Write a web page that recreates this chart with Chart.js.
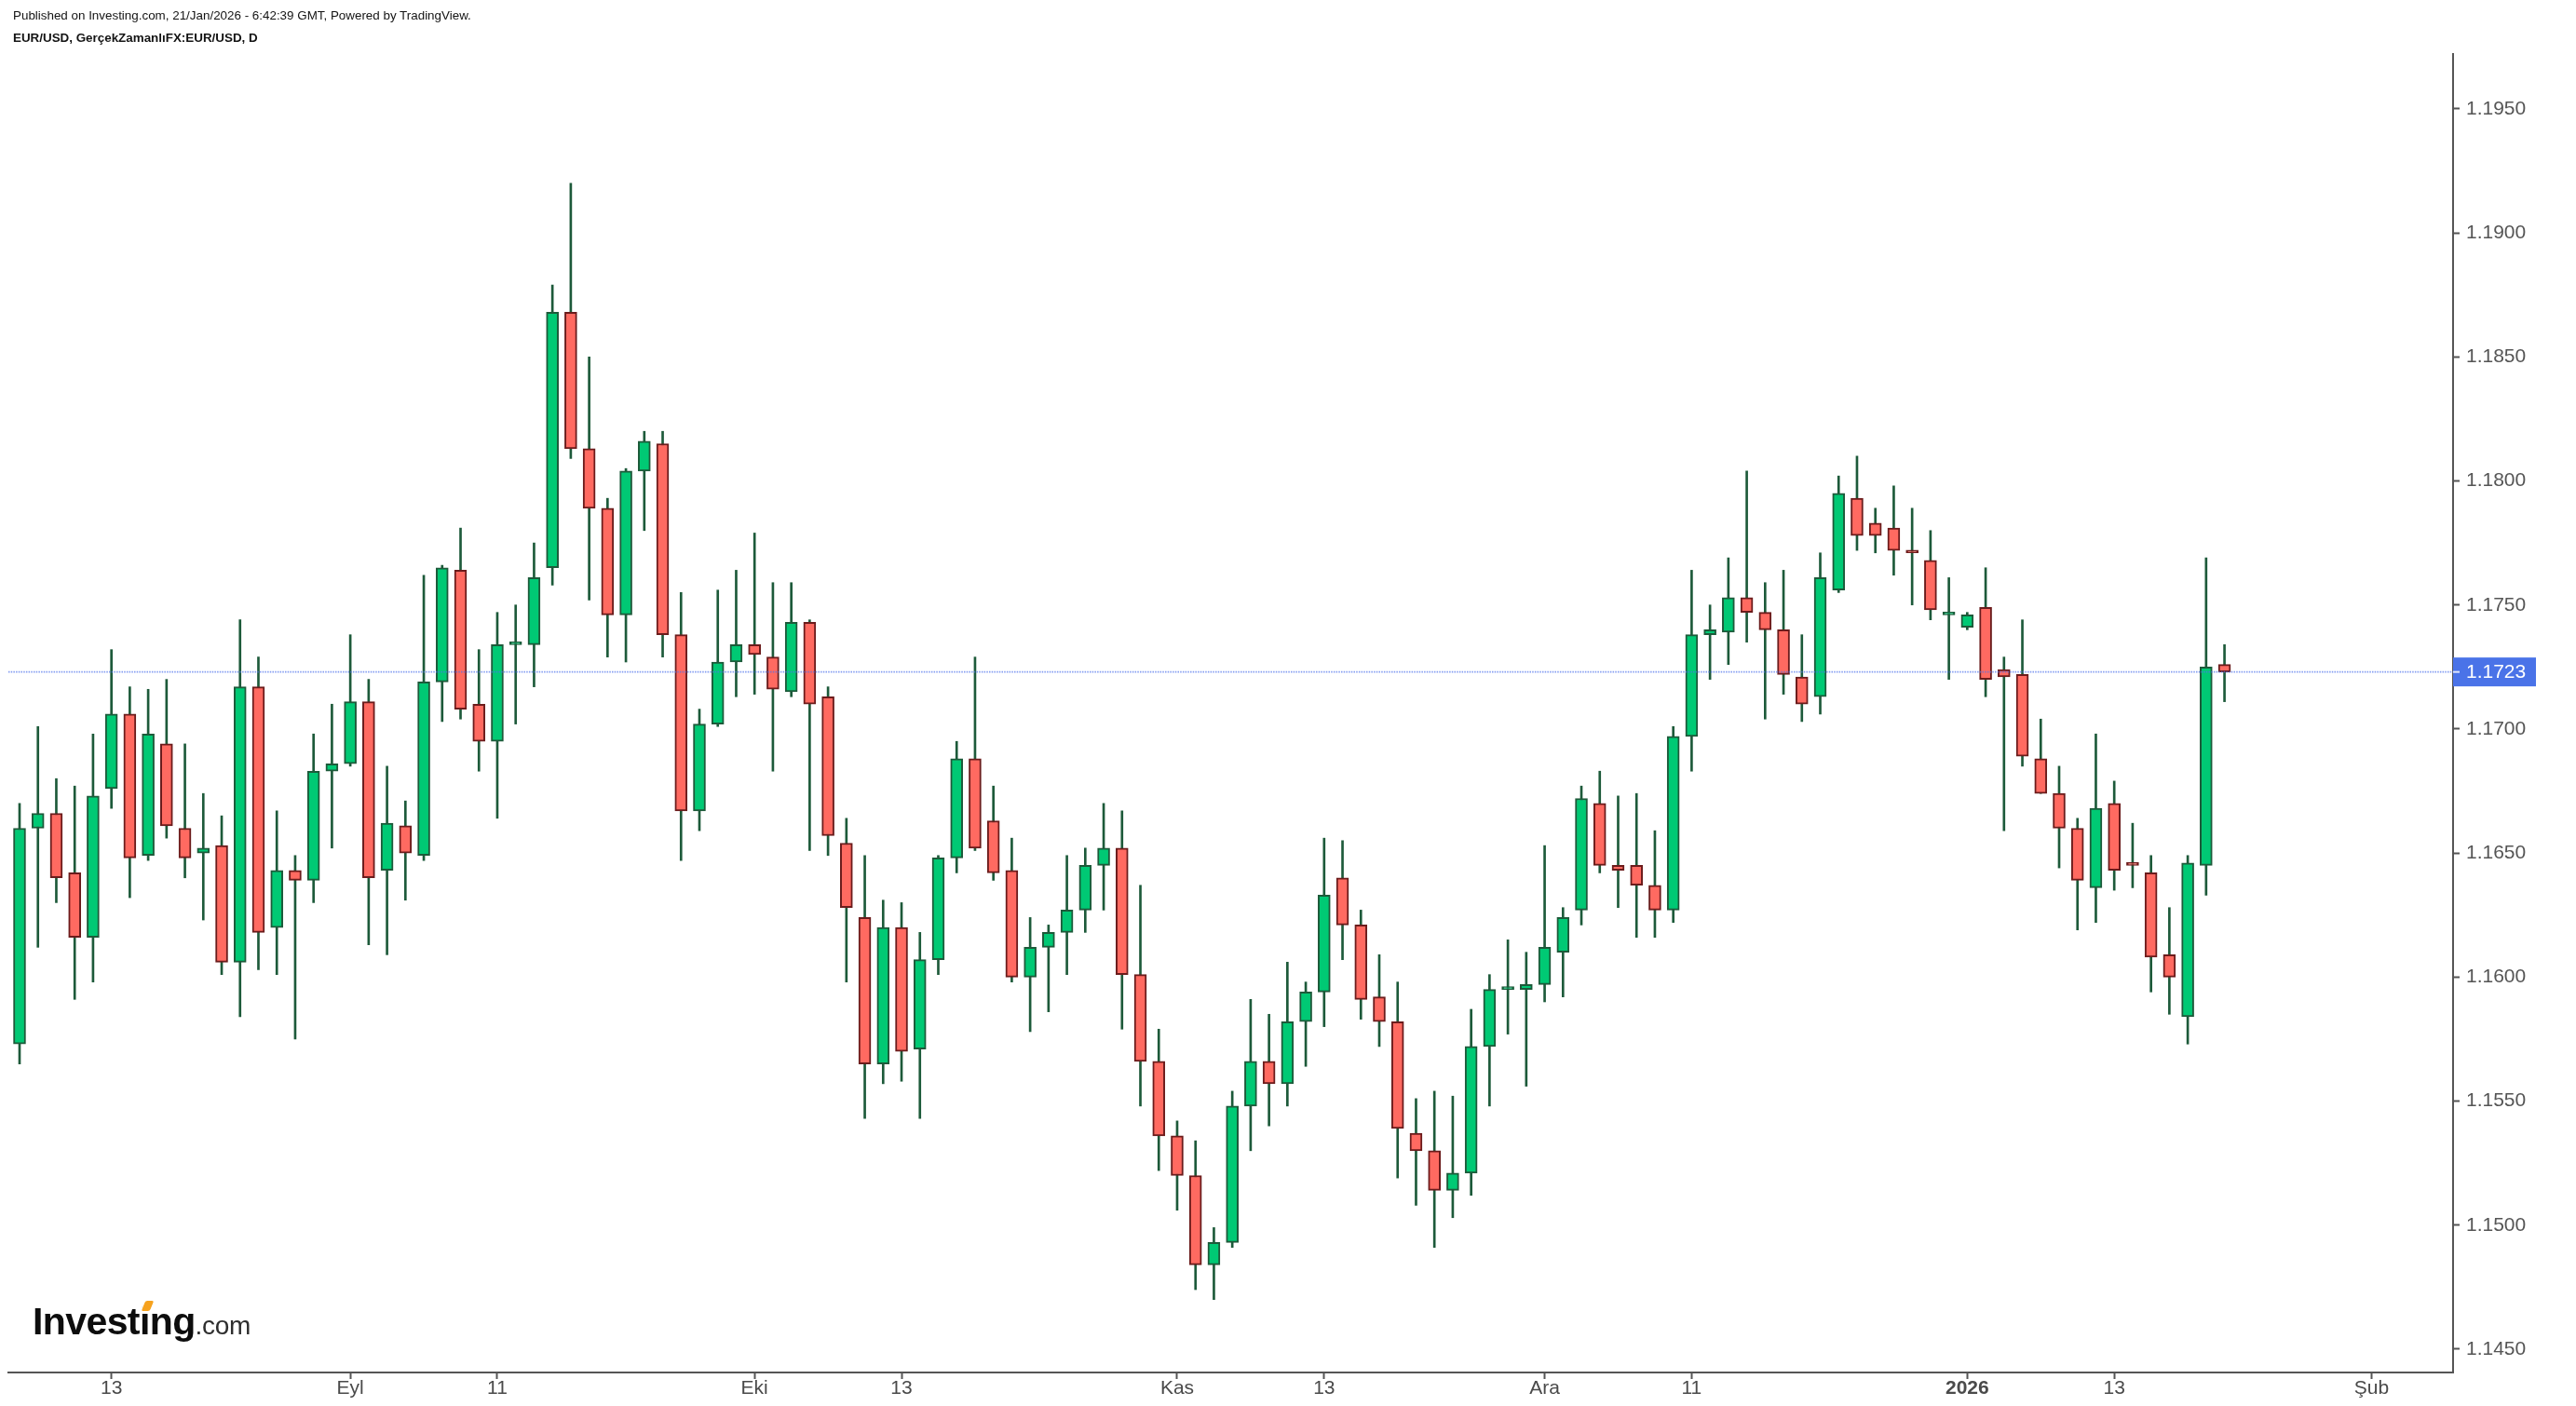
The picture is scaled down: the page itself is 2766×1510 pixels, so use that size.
<!DOCTYPE html>
<html lang="tr">

<head>
    <meta charset="UTF-8">
    <title>EUR/USD, D</title>
    <style>
        html, body { margin: 0; padding: 0; background: #fff; }
        #wrap { position: relative; width: 2766px; height: 1510px; overflow: hidden; }
        #chart-box { position: absolute; left: 0; top: 0; width: 2766px; height: 1510px; }
        .hdr { position: absolute; left: 14px; font-family: "Liberation Sans", Arial, sans-serif; font-size: 13.4px; line-height: 14px; color: #131313; white-space: nowrap; }
        #hdr1 { top: 10px; }
        #hdr2 { top: 34px; font-weight: bold; }
        #logo { position: absolute; left: 35px; top: 1399px; line-height: 40px; font-family: "Liberation Sans", Arial, sans-serif; white-space: nowrap; }
        #logo .big { font-size: 41px; font-weight: bold; color: #0d0d0d; letter-spacing: -0.6px; }
        #logo .com { font-size: 28px; color: #2e2e2e; letter-spacing: -0.3px; }
        #logo-dot { position: absolute; left: 154px; top: 1397px; width: 9px; height: 11px; background: #f6a21e; transform: skewX(-22deg); border-radius: 2px; box-shadow: 0 0 0 1px #fff; }
    </style>
    <script src="https://cdn.jsdelivr.net/npm/chart.js"></script>
</head>

<body>
    <div id="wrap">
        <div id="chart-box"><canvas id="fx-chart"></canvas></div>
        <div class="hdr" id="hdr1">Published on Investing.com, 21/Jan/2026 - 6:42:39 GMT, Powered by TradingView.</div>
        <div class="hdr" id="hdr2">EUR/USD, GerçekZamanlıFX:EUR/USD, D</div>
        <div id="logo"><span class="big">Investing</span><span class="com">.com</span></div>
        <div id="logo-dot"></div>
    </div>

    <script>
        // giorni di negoziazione (ago 2025 - gen 2026)
        const dates = [
            '2025-08-06', '2025-08-07', '2025-08-08', '2025-08-11', '2025-08-12', '2025-08-13', '2025-08-14', '2025-08-15',
            '2025-08-18', '2025-08-19', '2025-08-20', '2025-08-21', '2025-08-22', '2025-08-25', '2025-08-26', '2025-08-27',
            '2025-08-28', '2025-08-29',
            '2025-09-01', '2025-09-02', '2025-09-03', '2025-09-04', '2025-09-05', '2025-09-08', '2025-09-09', '2025-09-10',
            '2025-09-11', '2025-09-12', '2025-09-15', '2025-09-16', '2025-09-17', '2025-09-18', '2025-09-19', '2025-09-22',
            '2025-09-23', '2025-09-24', '2025-09-25', '2025-09-26', '2025-09-29', '2025-09-30',
            '2025-10-01', '2025-10-02', '2025-10-03', '2025-10-06', '2025-10-07', '2025-10-08', '2025-10-09', '2025-10-10',
            '2025-10-13', '2025-10-14', '2025-10-15', '2025-10-16', '2025-10-17', '2025-10-20', '2025-10-21', '2025-10-22',
            '2025-10-23', '2025-10-24', '2025-10-27', '2025-10-28', '2025-10-29', '2025-10-30', '2025-10-31',
            '2025-11-03', '2025-11-04', '2025-11-05', '2025-11-06', '2025-11-07', '2025-11-10', '2025-11-11', '2025-11-12',
            '2025-11-13', '2025-11-14', '2025-11-17', '2025-11-18', '2025-11-19', '2025-11-20', '2025-11-21', '2025-11-24',
            '2025-11-25', '2025-11-26', '2025-11-27', '2025-11-28',
            '2025-12-01', '2025-12-02', '2025-12-03', '2025-12-04', '2025-12-05', '2025-12-08', '2025-12-09', '2025-12-10',
            '2025-12-11', '2025-12-12', '2025-12-15', '2025-12-16', '2025-12-17', '2025-12-18', '2025-12-19', '2025-12-22',
            '2025-12-23', '2025-12-24', '2025-12-25', '2025-12-26', '2025-12-29', '2025-12-30', '2025-12-31',
            '2026-01-01', '2026-01-02', '2026-01-05', '2026-01-06', '2026-01-07', '2026-01-08', '2026-01-09', '2026-01-12',
            '2026-01-13', '2026-01-14', '2026-01-15', '2026-01-16', '2026-01-19', '2026-01-20', '2026-01-21'
        ];

        const opens = [
            1.1573, 1.1660, 1.1666, 1.1642, 1.1616, 1.1676, 1.1706, 1.1649, 1.1694, 1.1660,
            1.1650, 1.1653, 1.1606, 1.1717, 1.1620, 1.1643, 1.1639, 1.1683, 1.1686, 1.1711,
            1.1643, 1.1661, 1.1649, 1.1719, 1.1764, 1.1710, 1.1695, 1.1734, 1.1734, 1.1765,
            1.1868, 1.1813, 1.1789, 1.1746, 1.1804, 1.1815, 1.1738, 1.1667, 1.1702, 1.1727,
            1.1734, 1.1729, 1.1715, 1.1743, 1.1713, 1.1654, 1.1624, 1.1565, 1.1620, 1.1571,
            1.1607, 1.1648, 1.1688, 1.1663, 1.1643, 1.1600, 1.1612, 1.1618, 1.1627, 1.1645,
            1.1652, 1.1601, 1.1566, 1.1536, 1.1520, 1.1484, 1.1493, 1.1548, 1.1566, 1.1557,
            1.1582, 1.1594, 1.1640, 1.1621, 1.1592, 1.1582, 1.1537, 1.1530, 1.1514, 1.1521,
            1.1572, 1.1595, 1.1595, 1.1597, 1.1610, 1.1627, 1.1670, 1.1645, 1.1645, 1.1637,
            1.1627, 1.1697, 1.1738, 1.1739, 1.1753, 1.1747, 1.1740, 1.1721, 1.1713, 1.1756,
            1.1793, 1.1783, 1.1781, 1.1772, 1.1768, 1.1746, 1.1741, 1.1749, 1.1724, 1.1722,
            1.1688, 1.1674, 1.1660, 1.1636, 1.1670, 1.1646, 1.1642, 1.1609, 1.1584, 1.1645,
            1.1726
        ];
        const highs = [
            1.1670, 1.1701, 1.1680, 1.1677, 1.1698, 1.1732, 1.1717, 1.1716, 1.1720, 1.1694,
            1.1674, 1.1665, 1.1744, 1.1729, 1.1667, 1.1649, 1.1698, 1.1710, 1.1738, 1.1720,
            1.1685, 1.1671, 1.1762, 1.1766, 1.1781, 1.1732, 1.1747, 1.1750, 1.1775, 1.1879,
            1.1920, 1.1850, 1.1793, 1.1805, 1.1820, 1.1820, 1.1755, 1.1708, 1.1756, 1.1764,
            1.1779, 1.1759, 1.1759, 1.1744, 1.1717, 1.1664, 1.1649, 1.1631, 1.1630, 1.1618,
            1.1649, 1.1695, 1.1729, 1.1677, 1.1656, 1.1624, 1.1621, 1.1649, 1.1652, 1.1670,
            1.1667, 1.1637, 1.1579, 1.1542, 1.1534, 1.1499, 1.1554, 1.1591, 1.1585, 1.1606,
            1.1598, 1.1656, 1.1655, 1.1627, 1.1609, 1.1598, 1.1551, 1.1554, 1.1552, 1.1587,
            1.1601, 1.1615, 1.1610, 1.1653, 1.1628, 1.1677, 1.1683, 1.1673, 1.1674, 1.1659,
            1.1701, 1.1764, 1.1750, 1.1769, 1.1804, 1.1759, 1.1764, 1.1738, 1.1771, 1.1802,
            1.1810, 1.1789, 1.1798, 1.1789, 1.1780, 1.1761, 1.1747, 1.1765, 1.1729, 1.1744,
            1.1704, 1.1685, 1.1664, 1.1698, 1.1679, 1.1662, 1.1649, 1.1628, 1.1649, 1.1769,
            1.1734
        ];
        const lows = [
            1.1565, 1.1612, 1.1630, 1.1591, 1.1598, 1.1668, 1.1632, 1.1647, 1.1656, 1.1640,
            1.1623, 1.1601, 1.1584, 1.1603, 1.1601, 1.1575, 1.1630, 1.1652, 1.1685, 1.1613,
            1.1609, 1.1631, 1.1647, 1.1703, 1.1704, 1.1683, 1.1664, 1.1702, 1.1717, 1.1758,
            1.1809, 1.1752, 1.1729, 1.1727, 1.1780, 1.1729, 1.1647, 1.1659, 1.1701, 1.1713,
            1.1714, 1.1683, 1.1713, 1.1651, 1.1649, 1.1598, 1.1543, 1.1557, 1.1558, 1.1543,
            1.1601, 1.1642, 1.1651, 1.1639, 1.1598, 1.1578, 1.1586, 1.1601, 1.1618, 1.1627,
            1.1579, 1.1548, 1.1522, 1.1506, 1.1474, 1.1470, 1.1491, 1.1530, 1.1540, 1.1548,
            1.1564, 1.1580, 1.1607, 1.1583, 1.1572, 1.1519, 1.1508, 1.1491, 1.1503, 1.1512,
            1.1548, 1.1577, 1.1556, 1.1590, 1.1592, 1.1621, 1.1642, 1.1628, 1.1616, 1.1616,
            1.1622, 1.1683, 1.1720, 1.1726, 1.1735, 1.1704, 1.1714, 1.1703, 1.1706, 1.1755,
            1.1772, 1.1771, 1.1762, 1.1750, 1.1744, 1.1720, 1.1740, 1.1713, 1.1659, 1.1685,
            1.1674, 1.1644, 1.1619, 1.1622, 1.1635, 1.1636, 1.1594, 1.1585, 1.1573, 1.1633,
            1.1711
        ];
        const closes = [
            1.1660, 1.1666, 1.1640, 1.1616, 1.1673, 1.1706, 1.1648, 1.1698, 1.1661, 1.1648,
            1.1652, 1.1606, 1.1717, 1.1618, 1.1643, 1.1639, 1.1683, 1.1686, 1.1711, 1.1640,
            1.1662, 1.1650, 1.1719, 1.1765, 1.1708, 1.1695, 1.1734, 1.1735, 1.1761, 1.1868,
            1.1813, 1.1789, 1.1746, 1.1804, 1.1816, 1.1738, 1.1667, 1.1702, 1.1727, 1.1734,
            1.1730, 1.1716, 1.1743, 1.1710, 1.1657, 1.1628, 1.1565, 1.1620, 1.1570, 1.1607,
            1.1648, 1.1688, 1.1652, 1.1642, 1.1600, 1.1612, 1.1618, 1.1627, 1.1645, 1.1652,
            1.1601, 1.1566, 1.1536, 1.1520, 1.1484, 1.1493, 1.1548, 1.1566, 1.1557, 1.1582,
            1.1594, 1.1633, 1.1621, 1.1591, 1.1582, 1.1539, 1.1530, 1.1514, 1.1521, 1.1572,
            1.1595, 1.1595, 1.1597, 1.1612, 1.1624, 1.1672, 1.1645, 1.1643, 1.1637, 1.1627,
            1.1697, 1.1738, 1.1740, 1.1753, 1.1747, 1.1740, 1.1722, 1.1710, 1.1761, 1.1795,
            1.1778, 1.1778, 1.1772, 1.1771, 1.1748, 1.1746, 1.1746, 1.1720, 1.1721, 1.1689,
            1.1674, 1.1660, 1.1639, 1.1668, 1.1643, 1.1645, 1.1608, 1.1600, 1.1646, 1.1725,
            1.1723
        ];

        // etichette asse x (indice del giorno -> testo)
        const xTickIndex = [5, 18, 26, 40, 48, 63, 71, 83, 91, 106, 114, 128];
        const xTickText = ['13', 'Eyl', '11', 'Eki', '13', 'Kas', '13', 'Ara', '11', '2026', '13', 'Şub'];
        const yTickValues = [1.1450, 1.1500, 1.1550, 1.1600, 1.1650, 1.1700, 1.1750, 1.1800, 1.1850, 1.1900, 1.1950];

        const FONT = '"Liberation Sans", Arial, sans-serif';
        const UP = '#00c974', DOWN = '#ff6a61';
        const UP_LINE = '#1d5a3a', DOWN_LINE = '#6b1c1c';

        const bodies = dates.map((d, i) => ({ x: i, y: [opens[i], closes[i]] }));
        const wicks = dates.map((d, i) => ({ x: i, y: [lows[i], highs[i]] }));
        const isUp = dates.map((d, i) => closes[i] >= opens[i]);

        // linea e etichetta dell'ultimo prezzo
        const lastPrice = {
            id: 'lastPrice',
            afterDatasetsDraw(chart) {
                const y = chart.scales.y.getPixelForValue(closes[closes.length - 1]);
                const a = chart.chartArea;
                const c = chart.ctx;
                c.save();
                c.strokeStyle = 'rgba(80,115,235,0.7)';
                c.lineWidth = 1.6;
                c.setLineDash([1.5, 1.2]);
                c.beginPath();
                c.moveTo(a.left, y);
                c.lineTo(a.right, y);
                c.stroke();
                c.restore();
            },
            afterDraw(chart) {
                const price = closes[closes.length - 1];
                const y = chart.scales.y.getPixelForValue(price);
                const x0 = chart.chartArea.right;
                const c = chart.ctx;
                c.save();
                c.fillStyle = '#4a73e8';
                c.fillRect(x0, y - 15.5, 89, 31);
                c.fillStyle = '#dfe7fb';
                c.fillRect(x0, y - 1, 7, 2);
                c.fillStyle = '#ffffff';
                c.font = '21px ' + FONT;
                c.textBaseline = 'middle';
                c.textAlign = 'left';
                c.fillText(price.toFixed(4), x0 + 14, y + 1);
                c.restore();
            }
        };

        const axisGrid = { offset: false, drawOnChartArea: false, drawTicks: true, tickLength: 7, tickColor: '#555', tickWidth: 2 };
        const axisBorder = { display: true, color: '#555', width: 2 };

        new Chart(document.getElementById('fx-chart'), {
            type: 'bar',
            data: {
                datasets: [{
                    label: 'body',
                    data: bodies,
                    backgroundColor: isUp.map(u => u ? UP : DOWN),
                    borderColor: isUp.map(u => u ? UP_LINE : DOWN_LINE),
                    borderWidth: 2,
                    borderSkipped: false,
                    barThickness: 13,
                    minBarLength: 3,
                    grouped: false,
                    order: 0
                }, {
                    label: 'wick',
                    data: wicks,
                    backgroundColor: UP_LINE,
                    borderWidth: 0,
                    barThickness: 2,
                    grouped: false,
                    order: 1
                }]
            },
            options: {
                responsive: true,
                maintainAspectRatio: false,
                devicePixelRatio: 1,
                animation: false,
                layout: { padding: { top: 58, left: 9, right: 0, bottom: 0 } },
                plugins: { legend: { display: false }, tooltip: { enabled: false } },
                scales: {
                    x: {
                        type: 'linear',
                        min: -0.608,
                        max: 132.44,
                        offset: false,
                        grid: axisGrid,
                        border: axisBorder,
                        afterBuildTicks: s => { s.ticks = xTickIndex.map(v => ({ value: v })); },
                        afterFit: s => { s.height = 36; },
                        ticks: {
                            autoSkip: false,
                            maxRotation: 0,
                            padding: -2,
                            color: '#4a4a4a',
                            font: ctx => ({
                                family: FONT, size: 21,
                                weight: ctx.tick && xTickText[xTickIndex.indexOf(ctx.tick.value)] === '2026' ? 'bold' : 'normal'
                            }),
                            callback: v => xTickText[xTickIndex.indexOf(v)] || ''
                        }
                    },
                    y: {
                        position: 'right',
                        min: 1.14406,
                        max: 1.19721,
                        grid: axisGrid,
                        border: axisBorder,
                        afterBuildTicks: s => { s.ticks = yTickValues.map(v => ({ value: v })); },
                        afterFit: s => { s.width = 132; },
                        ticks: {
                            padding: 7,
                            color: '#555',
                            font: { family: FONT, size: 21 },
                            callback: v => Number(v).toFixed(4)
                        }
                    }
                }
            },
            plugins: [lastPrice]
        });
    </script>
</body>

</html>
